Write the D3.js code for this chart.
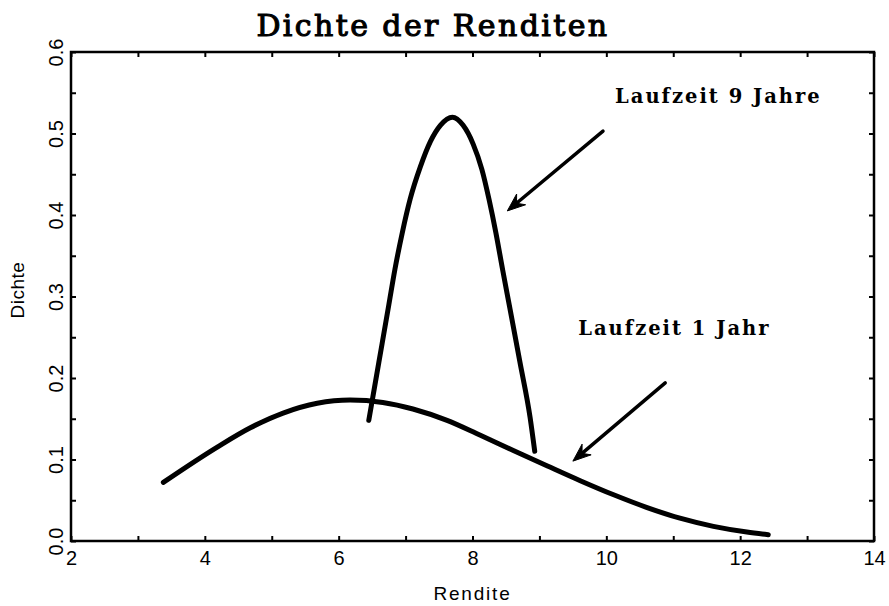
<!DOCTYPE html>
<html>
<head>
<meta charset="utf-8">
<script src="https://cdn.jsdelivr.net/npm/d3@7"></script>
<style>
  body { margin: 0; background: #fff; }
  svg { display: block; }
  .tick line { stroke: #000; stroke-width: 2px; }
  .tick text { font-family: "Liberation Sans", Arial, sans-serif; font-size: 20px; fill: #000; }
</style>
</head>
<body>
<svg width="889" height="606"></svg>
<script>
const width = 889;
const height = 606;

// Laufzeit 1 Jahr
const rendite1 = [3.38, 4.18, 4.68, 5.17, 5.68, 6.17, 6.66, 7.11, 7.62, 8.11, 8.61, 9.12, 9.61, 10.10, 10.61, 11.10, 11.60, 12.10, 12.42];
const dichte1 = [0.072, 0.115, 0.139, 0.157, 0.169, 0.173, 0.170, 0.162, 0.148, 0.130, 0.111, 0.092, 0.074, 0.057, 0.041, 0.028, 0.018, 0.011, 0.0078];

// Laufzeit 9 Jahre
const rendite9 = [6.45, 6.60, 6.75, 6.84, 6.95, 7.07, 7.22, 7.37, 7.52, 7.70, 7.86, 8.01, 8.14, 8.25, 8.35, 8.45, 8.56, 8.71, 8.86, 8.93];
const dichte9 = [0.148, 0.219, 0.290, 0.333, 0.378, 0.420, 0.459, 0.490, 0.510, 0.520, 0.510, 0.487, 0.456, 0.418, 0.378, 0.333, 0.285, 0.219, 0.152, 0.110];

const xTicks = [2, 3, 4, 5, 6, 7, 8, 9, 10, 11, 12, 13, 14];
const yTicks = [0, 0.05, 0.1, 0.15, 0.2, 0.25, 0.3, 0.35, 0.4, 0.45, 0.5, 0.55, 0.6];

// annotations: text anchor point and arrow [from, to] in data units
const labels = ["Laufzeit 9 Jahre", "Laufzeit 1 Jahr"];
const labelAt = [[10.13, 0.537], [9.58, 0.253]];
const arrows = [[[9.95, 0.503], [8.52, 0.405]], [[10.88, 0.194], [9.50, 0.098]]];

const svg = d3.select('svg');

const x = d3.scaleLinear().domain([2, 14]).range([71, 874]);
const y = d3.scaleLinear().domain([0, 0.6]).range([541, 52]);

// axes, ticks pointing inward
svg.append('g')
    .attr('transform', `translate(0,${y(0)})`)
    .call(d3.axisBottom(x).tickValues(xTicks).tickSize(-5).tickPadding(10)
        .tickFormat(d => d % 2 === 0 ? d : ''))
    .call(g => g.select('.domain').remove());

svg.append('g')
    .attr('transform', `translate(0,${y(0.6)})`)
    .call(d3.axisTop(x).tickValues(xTicks).tickSize(-5).tickFormat(''))
    .call(g => g.select('.domain').remove());

svg.append('g')
    .attr('transform', `translate(${x(2)},0)`)
    .call(d3.axisLeft(y).tickValues(yTicks).tickSize(-5)
        .tickFormat(d => Math.round(d * 100) % 10 === 0 ? d3.format('.1f')(d) : ''))
    .call(g => g.select('.domain').remove())
    .call(g => g.selectAll('.tick text')
        .attr('x', 0).attr('dy', 0)
        .attr('text-anchor', 'middle')
        .attr('transform', 'translate(-8,0) rotate(-90)'));

svg.append('g')
    .attr('transform', `translate(${x(14)},0)`)
    .call(d3.axisRight(y).tickValues(yTicks).tickSize(-5).tickFormat(''))
    .call(g => g.select('.domain').remove());

// frame
svg.append('rect')
    .attr('x', x(2)).attr('y', y(0.6))
    .attr('width', x(14) - x(2)).attr('height', y(0) - y(0.6))
    .attr('fill', 'none').attr('stroke', '#000').attr('stroke-width', 2.5);

// curves
const line = d3.line()
    .x(d => x(d[0]))
    .y(d => y(d[1]))
    .curve(d3.curveMonotoneX);

[[rendite1, dichte1], [rendite9, dichte9]].forEach(([xs, ys]) => {
    svg.append('path')
        .attr('d', line(d3.zip(xs, ys)))
        .attr('fill', 'none')
        .attr('stroke', '#000')
        .attr('stroke-width', 5)
        .attr('stroke-linecap', 'round')
        .attr('stroke-linejoin', 'round');
});

// arrows
arrows.forEach(([from, to]) => {
    const x1 = x(from[0]), y1 = y(from[1]);
    const x2 = x(to[0]), y2 = y(to[1]);
    const a = Math.atan2(y2 - y1, x2 - x1);
    const len = 18, half = 7, notch = 12;
    const ux = Math.cos(a), uy = Math.sin(a);
    svg.append('line')
        .attr('x1', x1).attr('y1', y1)
        .attr('x2', x2 - ux * notch).attr('y2', y2 - uy * notch)
        .attr('stroke', '#000').attr('stroke-width', 3.5).attr('stroke-linecap', 'round');
    const head = [
        [x2, y2],
        [x2 - ux * len - uy * half, y2 - uy * len + ux * half],
        [x2 - ux * notch, y2 - uy * notch],
        [x2 - ux * len + uy * half, y2 - uy * len - ux * half]
    ];
    svg.append('path')
        .attr('d', d3.line()(head) + 'Z')
        .attr('fill', '#000').attr('stroke', '#000').attr('stroke-width', 1);
});

// annotation labels
svg.selectAll('.note')
    .data(labels)
    .join('text')
    .attr('class', 'note')
    .attr('x', (d, i) => x(labelAt[i][0]))
    .attr('y', (d, i) => y(labelAt[i][1]))
    .attr('font-family', '"DejaVu Serif", serif')
    .attr('font-weight', 'bold')
    .attr('font-size', 19.5)
    .attr('letter-spacing', 2)
    .text(d => d);

// title
svg.append('text')
    .attr('x', 433).attr('y', 36)
    .attr('text-anchor', 'middle')
    .attr('font-family', '"DejaVu Serif", serif')
    .attr('font-size', 30)
    .attr('letter-spacing', 2.4)
    .attr('fill', '#000')
    .attr('stroke', '#000')
    .attr('stroke-width', 1.1)
    .text('Dichte der Renditen');

// axis titles
svg.append('text')
    .attr('x', (x(2) + x(14)) / 2).attr('y', 600)
    .attr('text-anchor', 'middle')
    .attr('font-family', '"Liberation Sans", Arial, sans-serif')
    .attr('font-size', 19)
    .attr('letter-spacing', 1.8)
    .text('Rendite');

svg.append('text')
    .attr('transform', 'translate(24,290) rotate(-90)')
    .attr('text-anchor', 'middle')
    .attr('font-family', '"Liberation Sans", Arial, sans-serif')
    .attr('font-size', 19)
    .attr('letter-spacing', 0.5)
    .text('Dichte');
</script>
</body>
</html>
